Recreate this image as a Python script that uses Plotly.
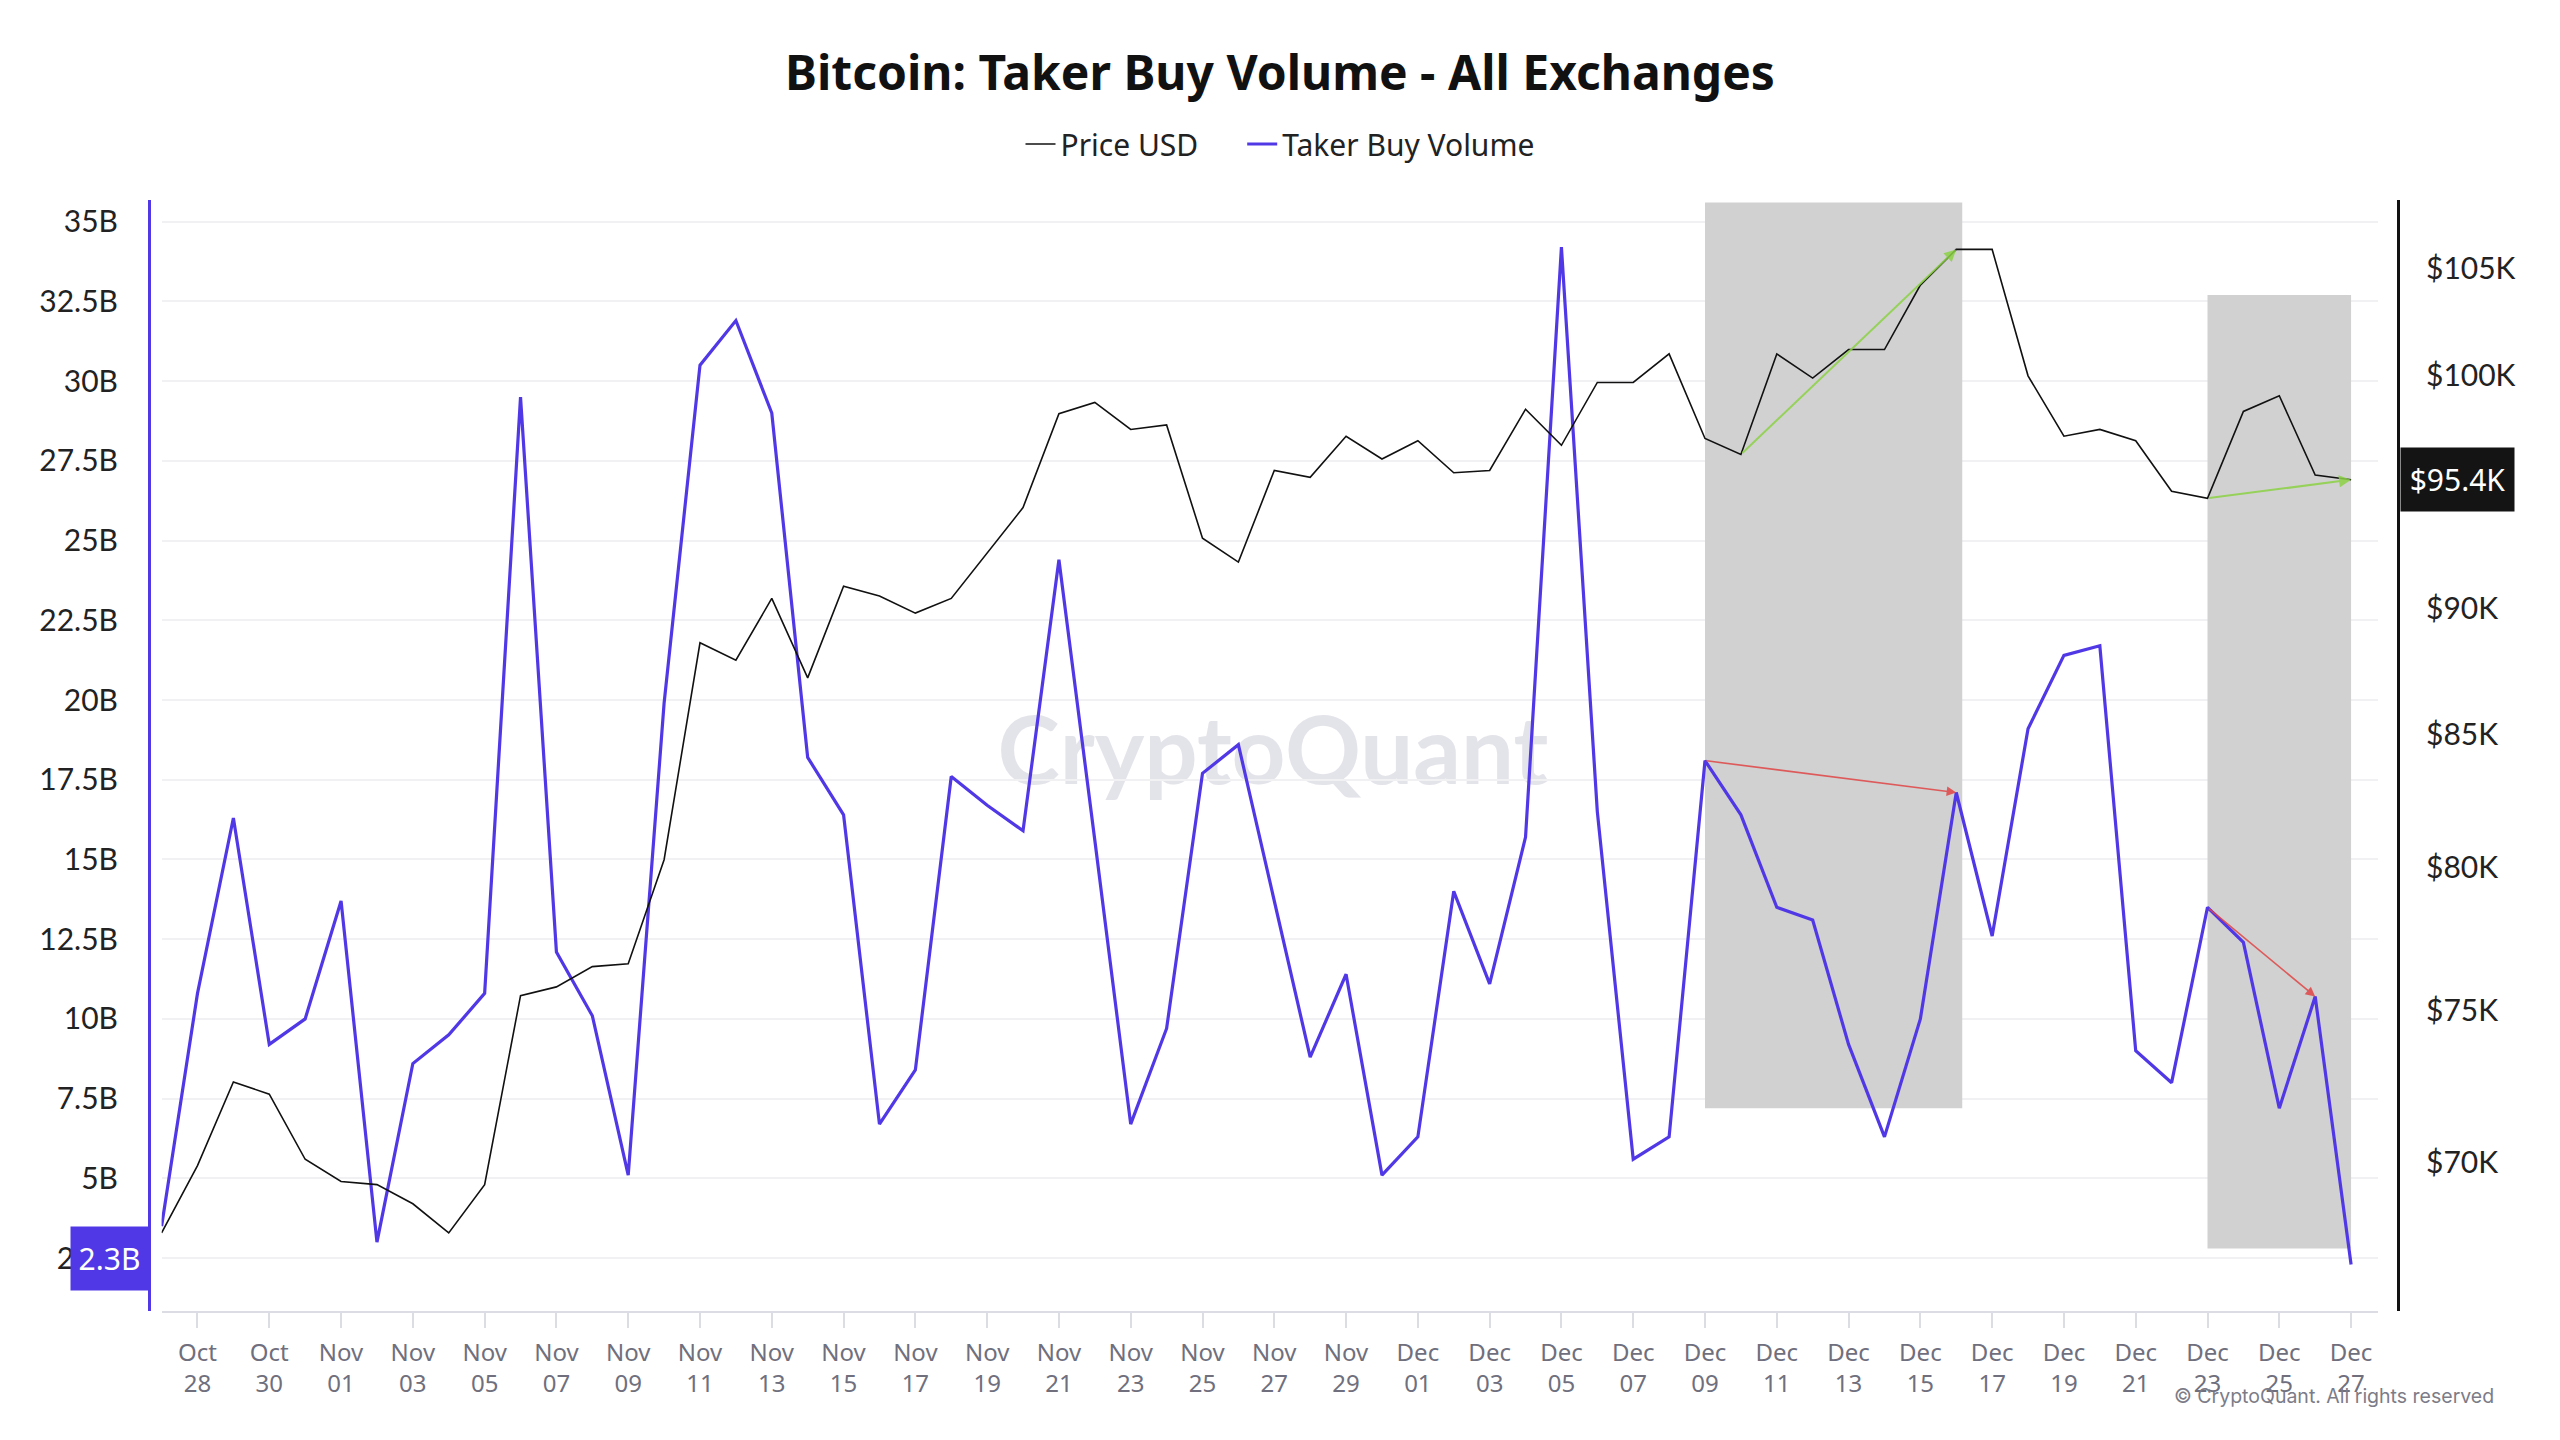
import math
import pandas as pd
import plotly.graph_objects as go

# ---------------- data ----------------
dates = pd.date_range("2024-10-27", "2024-12-27", freq="D")

volume_b = [3.5, 10.8, 16.3, 9.2, 10.0,
            13.7, 3.0, 8.6, 9.5, 10.8, 29.5, 12.1, 10.1, 5.1, 19.9,
            30.5, 31.9, 29.0, 18.2, 16.4, 6.7, 8.4, 17.6, 16.7, 15.9,
            24.4, 15.6, 6.7, 9.7, 17.7, 18.6, 13.7, 8.8, 11.4, 5.1,
            6.3, 14.0, 11.1, 15.7, 34.2, 16.5, 5.6, 6.3, 18.1, 16.4,
            13.5, 13.1, 9.2, 6.3, 10.0, 17.1, 12.6, 19.1, 21.4, 21.7,
            9.0, 8.0, 13.5, 12.4, 7.2, 10.7, 2.3]

price_k = [67.8, 69.9, 72.6, 72.2, 70.1,
           69.4, 69.3, 68.7, 67.8, 69.3, 75.5, 75.8, 76.5, 76.6, 80.3,
           88.6, 87.9, 90.4, 87.2, 90.9, 90.5, 89.8, 90.4, 92.3, 94.2,
           98.3, 98.8, 97.6, 97.8, 92.9, 91.9, 95.8, 95.5, 97.3, 96.3,
           97.1, 95.7, 95.8, 98.5, 96.9, 99.7, 99.7, 101.0, 97.2, 96.5,
           101.0, 99.9, 101.2, 101.2, 104.2, 105.9, 105.9, 100.0, 97.3, 97.6,
           97.1, 94.9, 94.6, 98.4, 99.1, 95.6, 95.4]

tick_dates = pd.date_range("2024-10-28", "2024-12-27", freq="2D")
tick_text = [f"{d:%b}<br>{d:%d}" for d in tick_dates]

vol_ticks_b = [2.5 * i for i in range(1, 15)]
vol_tick_text = [f"{v:g}B" for v in vol_ticks_b]

price_ticks_k = [70, 75, 80, 85, 90, 95, 100, 105]
price_tick_text = [f"${v}K" for v in price_ticks_k]

# highlighted windows: (start, end, low B, high B)
highlights = [("2024-12-09", "2024-12-16 04:00", 7.2, 35.6),
              ("2024-12-23", "2024-12-27", 2.8, 32.7)]
# divergence arrows (from date, to date)
price_arrows = [("2024-12-10", "2024-12-16"), ("2024-12-23", "2024-12-27")]
volume_arrows = [("2024-12-09", "2024-12-16"), ("2024-12-23", "2024-12-26")]

last_volume_label = "2.3B"
last_price_label = "$95.4K"

# ---------------- styling / layout constants ----------------
W, H = 2560, 1440
PURPLE = "#5038E6"
TOP, BOTTOM = 200, 1311
PLOT_H = BOTTOM - TOP
NB = "\u00a0"


def px_x(p):
    return p / W


def px_y(p):
    return (BOTTOM - p) / PLOT_H


volume = [v * 1e9 for v in volume_b]
price = [p * 1e3 for p in price_k]
idx = {d.strftime("%Y-%m-%d"): i for i, d in enumerate(dates)}

fig = go.Figure()
fig.add_trace(go.Scatter(x=dates, y=price, name="Price USD" + NB * 5, yaxis="y2",
                         mode="lines", line=dict(color="#111111", width=1.6)))
fig.add_trace(go.Scatter(x=dates, y=volume, name="Taker Buy Volume", yaxis="y",
                         mode="lines", line=dict(color=PURPLE, width=3.2)))

shapes = []
for s, e, lo, hi in highlights:
    shapes.append(dict(type="rect", xref="x", yref="y", x0=s, x1=e,
                       y0=lo * 1e9, y1=hi * 1e9, fillcolor="#d1d1d1",
                       line=dict(width=0), layer="between"))
# watermark
shapes.append(dict(type="rect", xref="paper", yref="paper",
                   x0=px_x(1273) - 0.15, x1=px_x(1273) + 0.15,
                   y0=px_y(746) - 0.06, y1=px_y(746) + 0.06,
                   line=dict(width=0), fillcolor="rgba(0,0,0,0)", layer="between",
                   label=dict(text="CryptoQuant", textposition="middle center",
                              font=dict(family="Lato", size=94, weight=700,
                                        color="#e3e3ea"))))

annotations = []
for a, b in price_arrows:
    ia, ib = idx[a], idx[b]
    annotations.append(dict(x=dates[ib], y=math.log10(price[ib]), xref="x", yref="y2",
                            ax=dates[ia], ay=math.log10(price[ia]), axref="x", ayref="y2",
                            showarrow=True, arrowhead=2, arrowsize=1.2, arrowwidth=2,
                            arrowcolor="rgba(140,210,70,0.85)", text=""))
for a, b in volume_arrows:
    ia, ib = idx[a], idx[b]
    annotations.append(dict(x=dates[ib], y=volume[ib], xref="x", yref="y",
                            ax=dates[ia], ay=volume[ia], axref="x", ayref="y",
                            showarrow=True, arrowhead=2, arrowsize=1.2, arrowwidth=1.6,
                            arrowcolor="rgba(225,70,70,0.85)", text=""))

annotations.append(dict(x=px_x(149), xref="paper", xanchor="right",
                        y=volume[-1], yref="y", yanchor="middle", yshift=6,
                        text=last_volume_label, showarrow=False, bgcolor=PURPLE,
                        width=75, height=61,
                        font=dict(family="Noto Sans", size=30, color="white")))
annotations.append(dict(x=px_x(2400), xref="paper", xanchor="left",
                        y=math.log10(price[-1]), yref="y2", yanchor="middle",
                        text=last_price_label, showarrow=False, bgcolor="#141414",
                        width=111, height=61,
                        font=dict(family="Noto Sans", size=30, color="white")))
annotations.append(dict(x=px_x(2496), xref="paper", xanchor="right",
                        y=px_y(1396), yref="paper", yanchor="middle",
                        text="© CryptoQuant. All rights reserved", showarrow=False,
                        font=dict(family="Inter", size=19.5, color="#7c7c88")))

fig.update_layout(
    width=W, height=H,
    margin=dict(l=0, r=0, t=TOP, b=H - BOTTOM, autoexpand=False),
    paper_bgcolor="white", plot_bgcolor="white",
    title=dict(text="<b>Bitcoin: Taker Buy Volume - All Exchanges</b>",
               x=0.5, xanchor="center", xref="paper",
               y=1 - 73 / H, yref="container", yanchor="middle",
               font=dict(family="Noto Sans", size=48, color="#111111")),
    legend=dict(orientation="h", x=0.5, xanchor="center", y=px_y(144), yanchor="middle",
                font=dict(family="Noto Sans", size=30, color="#222222"),
                bgcolor="rgba(0,0,0,0)", itemwidth=30),
    showlegend=True,
    xaxis=dict(type="date", domain=[px_x(161.6), px_x(2378)],
               range=[dates[0], dates[-1] + pd.Timedelta(hours=18)],
               tickvals=tick_dates, ticktext=tick_text,
               ticks="outside", ticklen=15, tickcolor="#dcdce4", tickwidth=1.5,
               showline=True, linecolor="#dcdce4", linewidth=2,
               showgrid=False, zeroline=False, ticklabelstandoff=4,
               tickfont=dict(family="Noto Sans", size=24, color="#6f6f7d")),
    yaxis=dict(anchor="free", position=px_x(149), side="left",
               range=[0.84e9, 35.68e9],
               tickvals=[v * 1e9 for v in vol_ticks_b], ticktext=vol_tick_text,
               showline=True, linecolor=PURPLE, linewidth=3,
               showgrid=True, gridcolor="#f1f1f4", gridwidth=1.5,
               zeroline=False, ticks="", ticklabelstandoff=24,
               tickfont=dict(family="Lato", size=30, color="#222222")),
    yaxis2=dict(anchor="free", position=px_x(2398), side="right", overlaying="y",
                type="log", range=[math.log10(65440), math.log10(108300)],
                tickvals=[p * 1e3 for p in price_ticks_k], ticktext=price_tick_text,
                showline=True, linecolor="#111111", linewidth=3,
                showgrid=False, zeroline=False, ticks="", ticklabelstandoff=20,
                tickfont=dict(family="Lato", size=30, color="#222222")),
    shapes=shapes,
    annotations=annotations,
)

fig.write_html("out.html", config={"displayModeBar": False},
               post_script="document.body.style.margin='0';document.body.style.overflow='hidden';")
